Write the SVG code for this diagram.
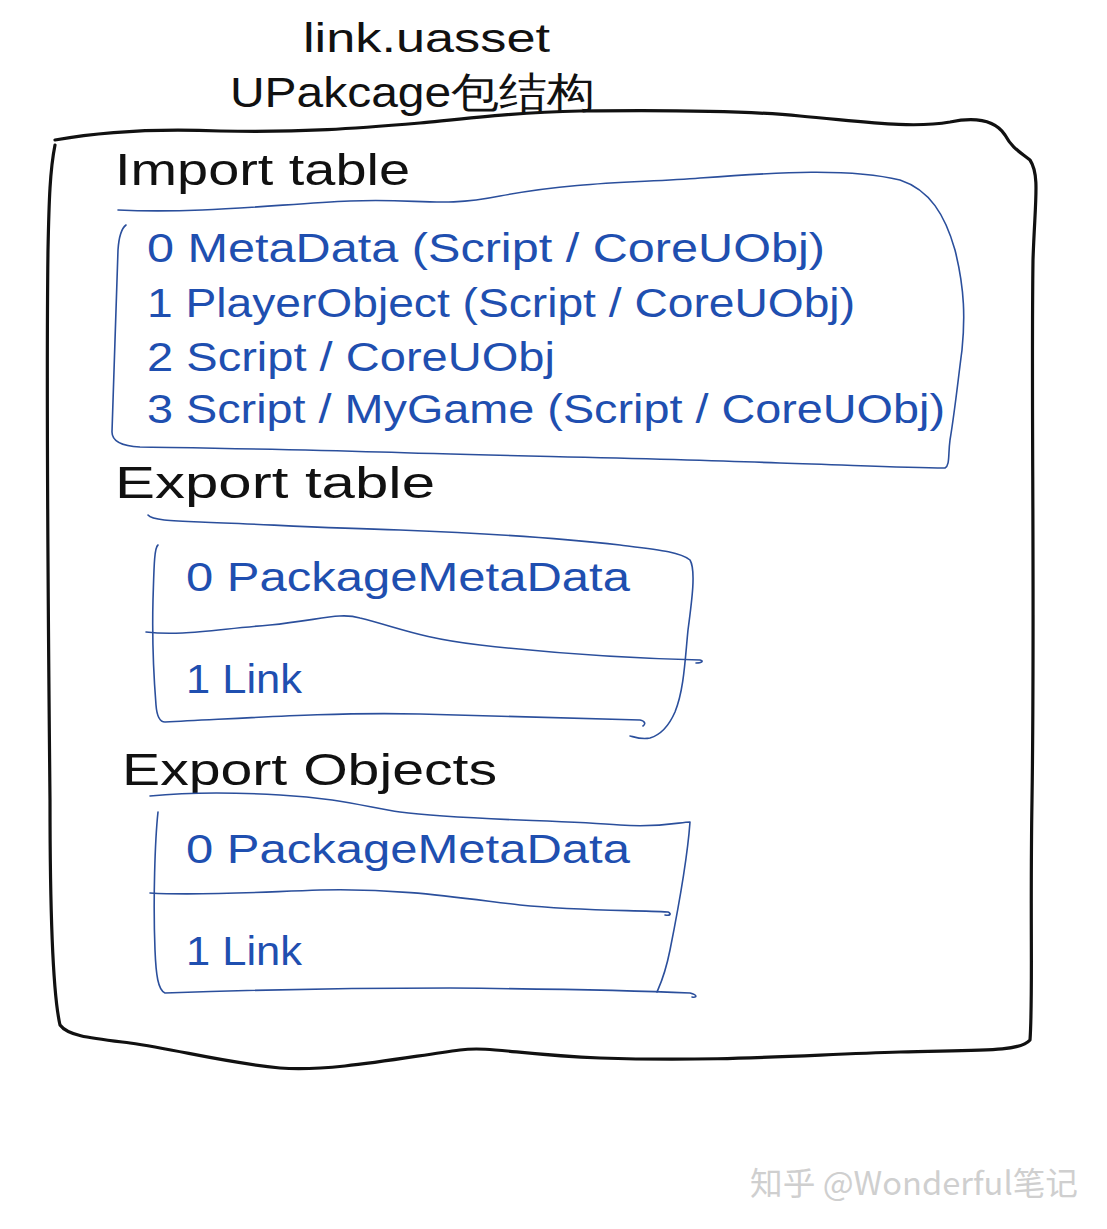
<svg xmlns="http://www.w3.org/2000/svg" width="1107" height="1229" viewBox="0 0 1107 1229">
<style>
.bk{fill:none;stroke:#111;stroke-width:3.2;stroke-linecap:round;stroke-linejoin:round}
.bl{fill:none;stroke:#2b4f9c;stroke-width:1.6;stroke-linecap:round;stroke-linejoin:round}
.h{font-family:"Liberation Sans Narrow","Liberation Sans",sans-serif;fill:#111}
.t{font-family:"Liberation Sans Narrow","Liberation Sans",sans-serif;fill:#1f4fb0}
.w{font-family:"Noto Sans CJK SC","Liberation Sans",sans-serif;fill:#cfcfcf}
</style>
<rect width="1107" height="1229" fill="#fff"/>
<g id="title">
<text class="h" x="303" y="52" font-size="40" textLength="247" lengthAdjust="spacingAndGlyphs">link.uasset</text>
<text class="h" x="230" y="107" font-size="42" textLength="365" lengthAdjust="spacingAndGlyphs" font-family="Liberation Sans Narrow,Noto Sans CJK SC,sans-serif">UPakcage包结构</text>
</g>
<g id="frame">
<path class="bk" d="M55,140 C100,132 150,128 220,131 C300,133 360,128 420,123 C470,118 520,112 580,111 C660,110 740,110 800,116 C860,121 910,129 950,122 C975,117 995,120 1005,135 C1012,148 1020,152 1030,160 C1040,175 1035,200 1033,260 C1031,400 1035,600 1032,800 C1030,920 1033,1000 1030,1040 C1020,1052 980,1050 900,1052 C800,1055 720,1062 600,1058 C520,1055 490,1046 460,1050 C400,1058 330,1072 280,1068 C220,1062 180,1050 130,1043 C90,1038 68,1036 60,1025 C52,990 50,900 50,800 C48,600 46,400 48,250 C49,200 50,170 55,145"/>
</g>
<g id="import-table">
<text class="h" x="115" y="185" font-size="44" textLength="295" lengthAdjust="spacingAndGlyphs">Import table</text>
<path class="bl" d="M118,210 C200,214 280,204 350,201 C420,198 440,208 500,196 C580,181 640,183 700,178 C780,172 850,168 900,180 C930,190 945,215 955,250 C965,290 965,320 962,350 C958,380 955,410 950,440 C948,455 950,465 945,468 C900,468 850,465 780,463 C650,458 500,456 380,452 C280,449 200,448 140,447 C120,446 112,440 112,432 C114,380 116,300 118,250 C119,235 122,228 126,225"/>
<text class="t" x="147" y="262" font-size="40" textLength="678" lengthAdjust="spacingAndGlyphs">0 MetaData (Script / CoreUObj)</text>
<text class="t" x="147" y="317" font-size="40" textLength="708" lengthAdjust="spacingAndGlyphs">1 PlayerObject (Script / CoreUObj)</text>
<text class="t" x="147" y="371" font-size="40" textLength="408" lengthAdjust="spacingAndGlyphs">2 Script / CoreUObj</text>
<text class="t" x="147" y="423" font-size="40" textLength="798" lengthAdjust="spacingAndGlyphs">3 Script / MyGame (Script / CoreUObj)</text>
</g>
<g id="export-table">
<text class="h" x="115" y="498" font-size="44" textLength="320" lengthAdjust="spacingAndGlyphs">Export table</text>
<path class="bl" d="M148,515 C152,520 170,521 200,522 C260,524 320,528 400,530 C480,533 560,538 620,545 C660,550 680,552 690,560 C696,570 692,600 688,630 C685,660 684,690 675,712 C668,728 660,735 650,738 C640,740 632,736 630,736"/>
<path class="bl" d="M158,545 C154,548 154,570 153,600 C152,640 154,680 156,705 C157,718 160,722 165,722 C250,718 330,712 420,714 C500,716 580,718 640,720 C645,721 646,724 643,726"/>
<path class="bl" d="M146,632 C180,636 210,630 270,625 C320,620 340,612 360,618 C400,628 420,638 480,645 C560,654 620,658 700,660 C704,661 702,663 696,663"/>
<text class="t" x="186" y="591" font-size="40" textLength="444" lengthAdjust="spacingAndGlyphs">0 PackageMetaData</text>
<text class="t" x="186" y="693" font-size="40" textLength="116" lengthAdjust="spacingAndGlyphs">1 Link</text>
</g>
<g id="export-objects">
<text class="h" x="122" y="785" font-size="44" textLength="375" lengthAdjust="spacingAndGlyphs">Export Objects</text>
<path class="bl" d="M150,796 C180,793 230,792 280,795 C340,798 370,808 400,812 C460,820 560,820 620,825 C660,828 680,822 690,822 C688,850 680,900 670,950 C665,975 660,985 657,992"/>
<path class="bl" d="M158,812 C155,840 153,900 155,950 C156,975 158,990 165,993 C250,990 350,988 450,988 C550,989 620,990 690,993 C698,995 697,998 692,997"/>
<path class="bl" d="M150,893 C200,896 260,892 320,890 C400,888 460,898 520,905 C580,911 630,910 668,912 C672,914 670,916 665,915"/>
<text class="t" x="186" y="863" font-size="40" textLength="444" lengthAdjust="spacingAndGlyphs">0 PackageMetaData</text>
<text class="t" x="186" y="965" font-size="40" textLength="116" lengthAdjust="spacingAndGlyphs">1 Link</text>
</g>
<g id="watermark">
<text class="w" x="750" y="1195" font-size="32" textLength="328" lengthAdjust="spacingAndGlyphs">知乎 @Wonderful笔记</text>
</g>
<g id="connectors"></g>
</svg>
